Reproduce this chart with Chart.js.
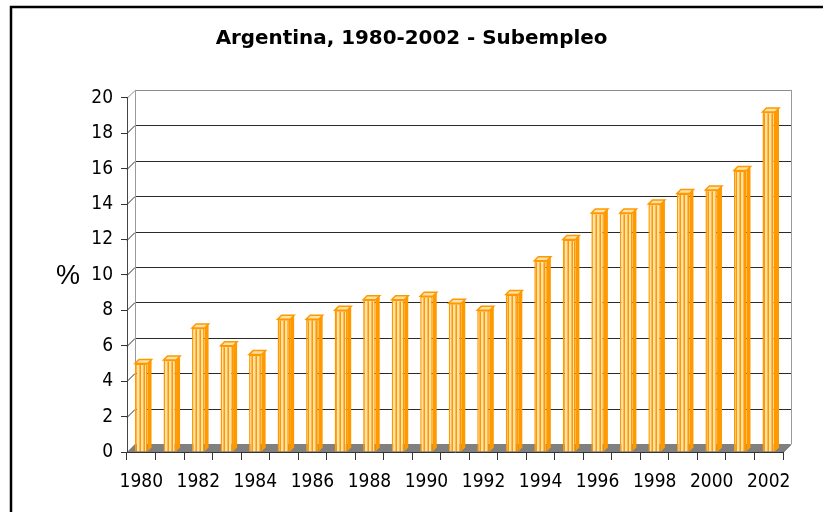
<!DOCTYPE html>
<html>
<head>
<meta charset="utf-8">
<script src="https://cdn.jsdelivr.net/npm/chart.js@4"></script>
<style>
  body { margin: 0; background: #fff; }
  canvas { display: block; }
</style>
</head>
<body>
<canvas id="subempleoChart" width="823" height="512"></canvas>
<script>
const years = [
  "1980", "1981", "1982", "1983", "1984", "1985", "1986", "1987",
  "1988", "1989", "1990", "1991", "1992", "1993", "1994", "1995",
  "1996", "1997", "1998", "1999", "2000", "2001", "2002",
];
const subempleo = [
  5.0, 5.2, 7.0, 6.0, 5.5, 7.5, 7.5, 8.0, 8.6, 8.6, 8.8, 8.4,
  8.0, 8.9, 10.8, 12.0, 13.5, 13.5, 14.0, 14.6, 14.8, 15.9, 19.2,
];
const yMin = 0;
const yMax = 20;
const yStep = 2;

const tickFont = "'DejaVu Sans Condensed', 'DejaVu Sans', sans-serif";
const depth = 8;

let ctx = document.getElementById("subempleoChart").getContext("2d");

// vertical stripes for the bar fronts
function stripes() {
  let c = document.createElement("canvas");
  c.width = 4;
  c.height = 1;
  let g = c.getContext("2d");
  g.fillStyle = "#ffe2a8";
  g.fillRect(0, 0, 4, 1);
  g.fillStyle = "#ff9900";
  g.fillRect(0, 0, 1, 1);
  g.fillStyle = "#ffb84a";
  g.fillRect(3, 0, 1, 1);
  return ctx.createPattern(c, "repeat");
}

// back wall, side wall and floor of the 3d box
const wallPlugin = {
  id: "walls",
  beforeDraw(chart) {
    const c = chart.ctx;
    const { left, right, top, bottom } = chart.chartArea;
    const ys = chart.scales.y;
    c.save();
    c.fillStyle = "#808080";
    c.beginPath();
    c.moveTo(left, bottom);
    c.lineTo(right, bottom);
    c.lineTo(right + depth, bottom - depth);
    c.lineTo(left + depth, bottom - depth);
    c.closePath();
    c.fill();

    c.lineWidth = 1;
    for (let v = yMin + yStep; v <= yMax; v += yStep) {
      const py = Math.round(ys.getPixelForValue(v)) + 0.5;
      c.strokeStyle = v === yMax ? "#8c8c8c" : "#2a2a2a";
      c.beginPath();
      c.moveTo(left, py);
      c.lineTo(left + depth, py - depth);
      c.lineTo(right + depth, py - depth);
      c.stroke();
    }
    c.strokeStyle = "#9a9a9a";
    c.beginPath();
    c.moveTo(left + depth + 0.5, top - depth);
    c.lineTo(left + depth + 0.5, bottom - depth);
    c.moveTo(right + depth + 0.5, top - depth);
    c.lineTo(right + depth + 0.5, bottom - depth);
    c.stroke();
    c.strokeStyle = "#333333";
    c.beginPath();
    c.moveTo(right, bottom + 0.5);
    c.lineTo(right + depth, bottom - depth + 0.5);
    c.stroke();
    c.restore();
  },
};

// side and top faces of each bar
const barFacesPlugin = {
  id: "barFaces",
  afterDatasetsDraw(chart) {
    const c = chart.ctx;
    const d = 4;
    chart.getDatasetMeta(0).data.forEach((bar) => {
      const { x, y, base, width } = bar.getProps(["x", "y", "base", "width"], true);
      const l = x - width / 2;
      const r = x + width / 2;
      c.save();
      c.fillStyle = "#ff9900";
      c.beginPath();
      c.moveTo(r, y);
      c.lineTo(r + d, y - d);
      c.lineTo(r + d, base - d);
      c.lineTo(r, base);
      c.closePath();
      c.fill();
      c.fillStyle = "#ffe2a8";
      c.strokeStyle = "#ff9900";
      c.lineWidth = 1.5;
      c.beginPath();
      c.moveTo(l, y);
      c.lineTo(l + d, y - d);
      c.lineTo(r + d, y - d);
      c.lineTo(r, y);
      c.closePath();
      c.fill();
      c.stroke();
      c.restore();
    });
  },
};

const framePlugin = {
  id: "frame",
  afterDraw(chart) {
    const c = chart.ctx;
    c.save();
    c.strokeStyle = "#000";
    c.lineWidth = 2.5;
    c.strokeRect(11, 7, 840, 560);
    c.fillStyle = "#000";
    c.font = "27px 'Liberation Sans', Arial, sans-serif";
    c.textAlign = "center";
    c.textBaseline = "middle";
    c.fillText("%", 68, 277);
    c.restore();
  },
};

let subempleoChart = new Chart(ctx, {
  type: "bar",
  data: {
    labels: years,
    datasets: [
      {
        label: "Subempleo",
        data: subempleo,
        backgroundColor: stripes(),
        borderColor: "#ff9900",
        borderWidth: 1.5,
        barPercentage: 0.44,
        categoryPercentage: 1,
      },
    ],
  },
  options: {
    responsive: false,
    animation: false,
    layout: {
      padding: 0,
    },
    plugins: {
      legend: { display: false },
      tooltip: { enabled: false },
      title: {
        display: true,
        text: "Argentina, 1980-2002 - Subempleo",
        color: "#000",
        font: { family: "'DejaVu Sans', sans-serif", size: 19.9, weight: "bold" },
        padding: { top: 27, bottom: 47 },
      },
    },
    scales: {
      x: {
        offset: true,
        grid: {
          offset: true,
          drawOnChartArea: false,
          tickLength: 8,
          color: "#333",
        },
        border: { display: true, color: "#333" },
        ticks: {
          autoSkip: false,
          maxRotation: 0,
          color: "#000",
          padding: 11,
          font: { family: tickFont, size: 19 },
          callback: function (value, index) {
            return index % 2 === 0 ? this.getLabelForValue(value) : "";
          },
        },
        afterFit: (scale) => {
          scale.height = 60;
        },
      },
      y: {
        min: yMin,
        max: yMax,
        grid: {
          drawOnChartArea: false,
          tickLength: 6,
          color: "#333",
        },
        border: { display: true, color: "#444" },
        ticks: {
          stepSize: yStep,
          color: "#000",
          padding: 8,
          font: { family: tickFont, size: 19 },
        },
        afterFit: (scale) => {
          scale.width = 127;
        },
      },
      // empty right-hand strip so the title stays centred on the canvas
      spacer: {
        type: "linear",
        position: "right",
        grid: { display: false },
        border: { display: false },
        ticks: { display: false },
        afterFit: (scale) => {
          scale.width = 40;
        },
      },
    },
  },
  plugins: [wallPlugin, barFacesPlugin, framePlugin],
});
</script>
</body>
</html>
